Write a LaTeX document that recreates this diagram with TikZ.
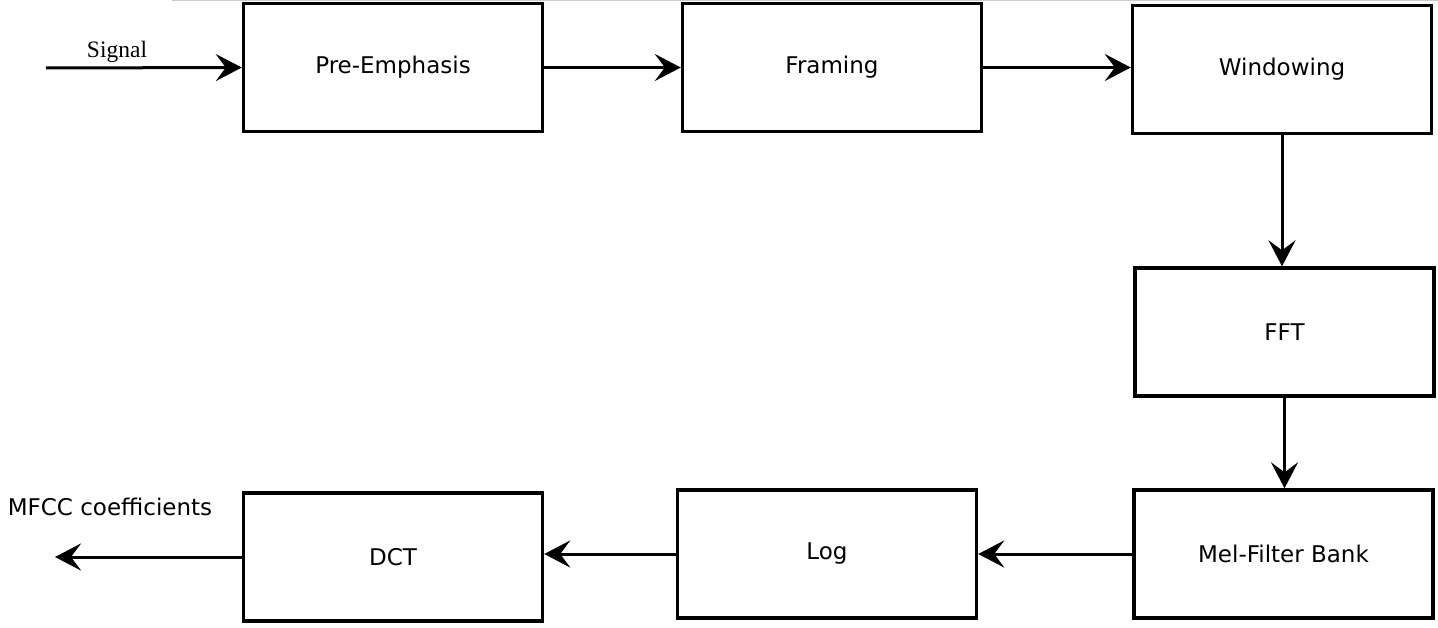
\documentclass[tikz,border=0pt]{standalone}
\usepackage{fontspec}
\setmainfont{DejaVu Sans}
\newfontfamily\signalfont{Liberation Serif}
\usetikzlibrary{arrows.meta}

\begin{document}
\begin{tikzpicture}[x=1pt,y=-1pt,
	block/.style={draw,line width=3.4pt,minimum width=299pt,minimum height=128pt,inner sep=0pt,font=\fontsize{23}{27}\selectfont},
	flow/.style={line width=3pt,-{Stealth[length=26pt,width=27pt,inset=10pt]}}]
	\useasboundingbox (0,0) rectangle (1438,628);
	% thin line on top
		\draw[gray!40,line width=1pt] (172,0.5) -- (1438,0.5);
	% upper row
		\node[block] (pre) at (393,67.5) {Pre-Emphasis};
		\node[block] (fram) at (832,67.5) {Framing};
		\node[block] (win) at (1282,69.5) {Windowing};
	% right column
		\node[block] (fft) at (1284.5,332) {FFT};
		\node[block] (mel) at (1283.5,554) {Mel-Filter Bank};
	% lower row
		\node[block] (log) at (827,554) {Log};
		\node[block] (dct) at (393,557) {DCT};
	% input and output
		\coordinate (in) at (46,68);
		\coordinate (out) at (55,557);
		\node[font=\signalfont\fontsize{23.5}{27}\selectfont] (sig) at (117,52) {Signal};
		\node[font=\fontsize{23}{27}\selectfont] (mfcc) at (110,507) {MFCC coefficients};
	% arrows
		\draw[flow] (in) -- (pre.west);
		\draw[flow] (pre.east) -- (fram.west);
		\draw[flow] (fram.east) -- (fram.east -| win.west);
		\draw[flow] (win.south) -- (win.south |- fft.north);
		\draw[flow] (fft.south) -- (fft.south |- mel.north);
		\draw[flow] (mel.west) -- (mel.west -| log.east);
		\draw[flow] (log.west) -- (log.west -| dct.east);
		\draw[flow] (dct.west) -- (out);
\end{tikzpicture}
\end{document}
